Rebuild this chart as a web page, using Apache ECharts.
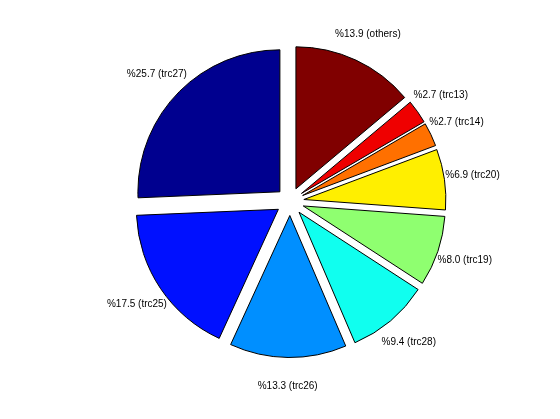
<!DOCTYPE html>
<html>
<head>
<meta charset="utf-8">
<script src="https://cdn.jsdelivr.net/npm/echarts@6/dist/echarts.min.js"></script>
<style>html,body{margin:0;padding:0;background:#fff}#c{width:560px;height:419px}</style>
</head>
<body>
<div id="c"></div>
<script>
var names = ['trc27', 'trc25', 'trc26', 'trc28', 'trc19', 'trc20', 'trc14', 'trc13', 'others'];
var values = [25.7, 17.5, 13.3, 9.4, 8.0, 6.9, 2.7, 2.7, 13.9];
var colors = ['#00008f', '#0010ff', '#008fff', '#10ffef', '#8fff70', '#ffef00', '#ff7000', '#ef0000', '#800000'];

var R = 142, CX = 290, CY = 201.5, OFF = 14;
var slices = names.map(function (n, i) {
  return { name: n, value: values[i], selected: true, itemStyle: { color: colors[i] } };
});
var labelData = names.map(function (n, i) {
  return { name: n, value: values[i] };
});
var chart = echarts.init(document.getElementById('c'));
chart.setOption({
  animation: false,
  backgroundColor: '#ffffff',
  series: [{
    type: 'pie',
    center: [CX, CY],
    radius: [0, R],
    startAngle: 90,
    clockwise: false,
    selectedMode: 'multiple',
    selectedOffset: OFF,
    avoidLabelOverlap: false,
    label: { show: false },
    labelLine: { show: false },
    emphasis: { disabled: true },
    itemStyle: { borderColor: '#000', borderWidth: 1 },
    select: { itemStyle: { borderColor: '#000', borderWidth: 1 } },
    data: slices
  }, {
    type: 'pie',
    silent: true,
    center: [CX, CY],
    radius: [0, 2 * (1.2 * R + OFF - 3)],
    startAngle: 90,
    clockwise: false,
    avoidLabelOverlap: false,
    itemStyle: { color: 'rgba(0,0,0,0)', borderWidth: 0 },
    labelLine: { show: false },
    emphasis: { disabled: true },
    label: {
      show: true,
      position: 'inside',
      color: '#000',
      fontFamily: 'Liberation Sans, Arial, sans-serif',
      fontSize: 10,
      formatter: function (p) { return '%' + p.value.toFixed(1) + ' (' + p.name + ')'; }
    },
    data: labelData
  }]
});
</script>
</body>
</html>
